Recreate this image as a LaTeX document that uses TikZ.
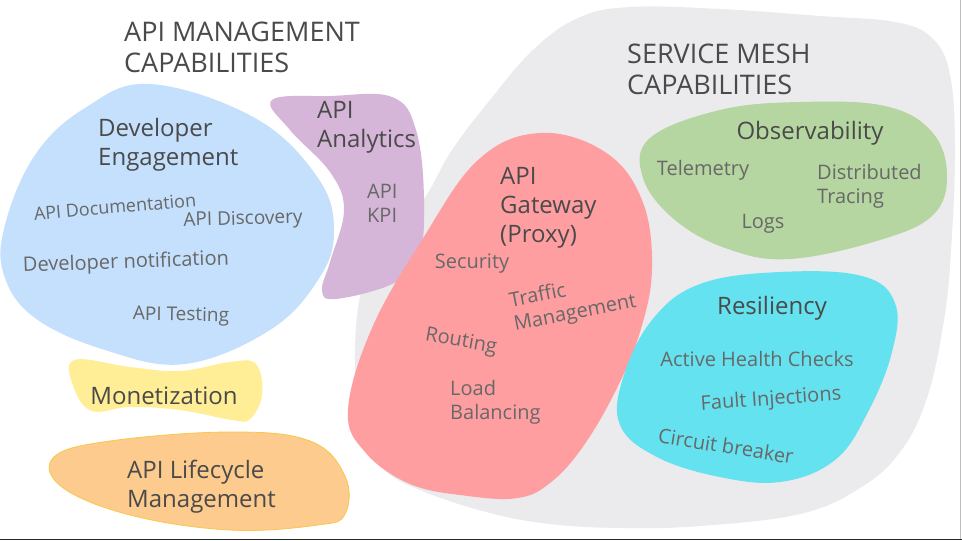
\documentclass[tikz,border=0pt]{standalone}
\usepackage{fontspec}
\setmainfont{Open Sans}
\definecolor{txtd}{HTML}{4A4A4A}
\definecolor{txtl}{HTML}{686868}
\definecolor{cgray}{HTML}{EBEAEC}
\definecolor{cblue}{HTML}{C4E0FC}
\definecolor{cpurp}{HTML}{D5B5D8}
\definecolor{cred}{HTML}{FF9EA0}
\definecolor{cgreen}{HTML}{B5D6A0}
\definecolor{ccyan}{HTML}{64E2EF}
\definecolor{cyell}{HTML}{FFEE96}
\definecolor{corng}{HTML}{FDCB8E}
\definecolor{corngl}{HTML}{F8C84A}
\tikzset{
  blob/.style={smooth cycle, tension=0.65},
  big/.style={font=\fontsize{27}{31}\selectfont, text=txtd, align=left, inner sep=0pt},
  head/.style={font=\fontsize{24}{29}\selectfont, text=txtd, align=left, inner sep=0pt},
  item/.style={font=\fontsize{20}{24}\selectfont, text=txtl, align=left, inner sep=0pt},
}
\begin{document}
\begin{tikzpicture}[x=1pt,y=-1pt]
\useasboundingbox (0,0) rectangle (962,541);
\fill[white] (0,0) rectangle (962,541);
% service mesh area
\fill[cgray] plot[blob] coordinates {(423,200) (452,150) (490,100) (533,50) (578,18) (630,7) (720,9) (820,16) (895,22) (932,38) (950,75) (955,150) (951,250) (944,320) (927,398) (900,452) (860,488) (800,514) (700,526) (620,528) (550,524) (490,513) (425,492) (385,470) (362,430) (355,350) (364,280) (388,235)};
% developer engagement
\fill[cblue] plot[blob] coordinates {(150,84) (255,118) (318,178) (334,232) (318,280) (270,330) (185,364) (105,350) (35,318) (4,275) (5,225) (35,155) (85,108)};
% analytics
\fill[cpurp] plot[blob] coordinates {(272,100) (330,96) (392,97) (416,130) (424,200) (418,262) (390,285) (335,299) (322,290) (330,262) (344,210) (330,172) (290,130)};
% gateway
\fill[cred] plot[blob] coordinates {(540,133) (605,152) (642,200) (652,268) (640,332) (615,392) (582,448) (550,483) (518,498) (468,496) (410,484) (365,452) (348,410) (372,328) (422,240) (478,160)};
% observability
\fill[cgreen] plot[blob] coordinates {(650,138) (720,110) (800,102) (885,106) (932,132) (947,175) (933,215) (880,240) (790,259) (728,249) (675,220) (643,178)};
% resiliency
\fill[ccyan] plot[blob] coordinates {(700,284) (780,272) (862,276) (895,303) (892,352) (868,412) (835,460) (780,482) (715,476) (655,456) (620,425) (623,378) (652,320)};
% monetization
\fill[cyell] plot[blob] coordinates {(74,360) (130,367) (180,371) (230,362) (256,364) (262,395) (250,419) (232,420) (180,410) (130,407) (92,411) (74,388)};
% lifecycle
\filldraw[fill=corng, draw=corngl, line width=0.8pt] plot[blob] coordinates {(54,457) (110,441) (230,432) (310,441) (345,476) (345,514) (318,525) (230,530) (130,515) (62,487)};
% frame lines
\draw[black!85, line width=1.5pt] (0,539.5) -- (962,539.5);
\draw[black!25, line width=0.8pt] (960,0) -- (960,539);

% titles
\node[big, anchor=north west] (amc) at (124,22) {API MANAGEMENT\\CAPABILITIES};
\node[big, anchor=north west] (smc) at (627,44) {SERVICE MESH\\CAPABILITIES};

% developer engagement
\node[head, anchor=north west] (deveng) at (98,118) {Developer\\Engagement};
\node[item, font=\fontsize{18}{22}\selectfont, rotate=5] (apidoc) at (115,207) {API Documentation};
\node[item, font=\fontsize{19}{23}\selectfont, rotate=1.5] (apidis) at (243,220) {API Discovery};
\node[item, rotate=2] (devnot) at (126,263) {Developer notification};
\node[item, font=\fontsize{19}{23}\selectfont, rotate=-1] (apitest) at (181,316) {API Testing};

% analytics
\node[head, anchor=north west] (analytics) at (317,101) {API\\Analytics};
\node[item, anchor=north west] (kpi) at (367,184) {API\\KPI};

% gateway
\node[head, anchor=north west] (gw) at (500,167) {API\\Gateway\\(Proxy)};
\node[item] (sec) at (472,264) {Security};
\node[item, rotate=11, anchor=center] (traffic) at (573,302) {Traffic\\Management};
\node[item, rotate=-10] (routing) at (461,342) {Routing};
\node[item, anchor=north west] (lb) at (450,380) {Load\\Balancing};

% observability
\node[head] (obs) at (810,133) {Observability};
\node[item] (tel) at (703,170) {Telemetry};
\node[item, anchor=north west] (dist) at (817,164) {Distributed\\Tracing};
\node[item] (logs) at (763,224) {Logs};

% resiliency
\node[head] (res) at (772,308) {Resiliency};
\node[item] (ahc) at (757,359) {Active Health Checks};
\node[item, rotate=4] (fault) at (771,400) {Fault Injections};
\node[item, rotate=-9] (cb) at (726,446) {Circuit breaker};

% monetization & lifecycle
\node[head] (mon) at (164,396) {Monetization};
\node[head, anchor=north west] (life) at (127,460) {API Lifecycle\\Management};
\end{tikzpicture}
\end{document}
